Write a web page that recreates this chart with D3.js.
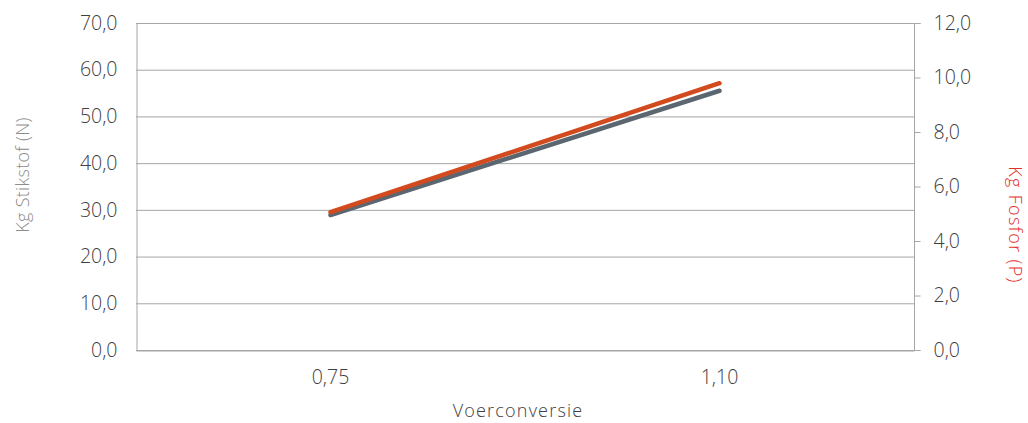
<!DOCTYPE html>
<html><head><meta charset="utf-8">
<script src="https://cdn.jsdelivr.net/npm/d3@7"></script>
<style>body{margin:0;background:#fff}svg{display:block}text{font-family:"Open Sans","Noto Sans",sans-serif;font-weight:300}</style>
</head><body>
<svg id="c" width="1028" height="423"></svg>
<script>
const categories = ["0,75", "1,10"];
const stikstof = [28.9, 55.5];
const fosfor = [5.06, 9.79];
const leftTicks = [0,10,20,30,40,50,60,70];
const rightTicks = [0,2,4,6,8,10,12];

const svg = d3.select("#c");
const m = {l:136, r:914, t:23, b:350};
const x = d3.scaleBand().domain(categories).range([m.l, m.r]);
const yL = d3.scaleLinear().domain([0,70]).range([m.b, m.t]);
const yR = d3.scaleLinear().domain([0,12]).range([m.b, m.t]);
const fmt = d => d3.format(".1f")(d).replace(".", ",");
const TS = 19.5;
const styleText = sel => sel.attr("font-size", TS).attr("fill", "#404040")
  .style("font-family", '"Open Sans",sans-serif').style("font-weight",300);

// gridlines
svg.append("g").selectAll("line").data(leftTicks).join("line")
  .attr("x1", m.l).attr("x2", m.r).attr("y1", d=>yL(d)+0.5).attr("y2", d=>yL(d)+0.5)
  .attr("stroke", "#a6a6a6").attr("stroke-width", 1);

// left axis
const gL = svg.append("g").attr("transform", `translate(${m.l+0.5},0)`)
  .call(d3.axisLeft(yL).tickValues(leftTicks).tickFormat(fmt).tickSize(0).tickPadding(19));
gL.select(".domain").attr("stroke", "#a6a6a6");
gL.selectAll("text").call(styleText);

// right axis
const gR = svg.append("g").attr("transform", `translate(${m.r+0.5},0)`)
  .call(d3.axisRight(yR).tickValues(rightTicks).tickFormat(fmt).tickSize(6).tickPadding(13));
gR.selectAll(".domain, line").attr("stroke", "#a6a6a6");
gR.select(".domain").attr("d", `M6,${m.t+0.5}H0V${m.b+0.5}H6`);
gR.selectAll("text").call(styleText);

// bottom axis
const gB = svg.append("g").attr("transform", `translate(0,${m.b+0.5})`)
  .call(d3.axisBottom(x).tickSize(0).tickPadding(20));
gB.select(".domain").attr("stroke", "#a6a6a6");
gB.selectAll("text").call(styleText);

// lines
const cx = d => x(d) + x.bandwidth()/2;
svg.append("path").datum(categories.map((c,i)=>[cx(c), yL(stikstof[i])]))
  .attr("d", d3.line()).attr("fill","none").attr("stroke","#5b6670").attr("stroke-width",4.5).attr("stroke-linecap","round");
svg.append("path").datum(categories.map((c,i)=>[cx(c), yR(fosfor[i])]))
  .attr("d", d3.line()).attr("fill","none").attr("stroke","#d24a1d").attr("stroke-width",4.5).attr("stroke-linecap","round");

// titles
svg.append("text").attr("x", 518).attr("y", 417).attr("text-anchor","middle")
  .attr("font-size", 18).attr("letter-spacing", 1.2).attr("fill","#404040").text("Voerconversie");
svg.append("text").attr("transform","translate(29,175) rotate(-90)").attr("text-anchor","middle")
  .attr("font-size", 18).attr("letter-spacing", 0.3).attr("fill","#8c8c8c").text("Kg Stikstof (N)");
svg.append("text").attr("transform","translate(1009,225) rotate(90)").attr("text-anchor","middle")
  .attr("font-size", 18).attr("letter-spacing", 1.3).attr("fill","#e0302a").text("Kg Fosfor (P)");
</script>
</body></html>
